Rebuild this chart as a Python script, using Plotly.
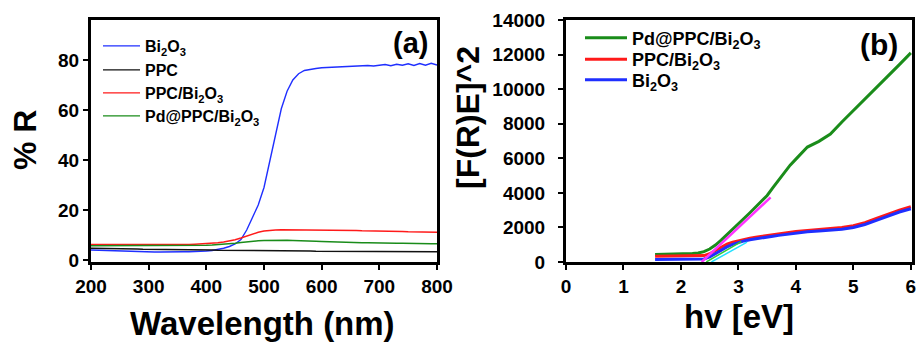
import plotly.graph_objects as go

# ---------------- Panel (a): reflectance ----------------
wavelength = list(range(200, 801, 10))

R_bi2o3 = [4.0, 3.9, 3.8, 3.7, 3.6, 3.6, 3.5, 3.5, 3.4, 3.3,
           3.3, 3.2, 3.2, 3.3, 3.2, 3.2, 3.3, 3.3, 3.3, 3.4,
           3.6, 3.8, 4.2, 4.7, 5.4, 6.4, 8.2, 12.0, 17.0, 22.0,
           29.0, 39.0, 50.0, 60.5, 67.5, 72.0, 74.5, 75.8, 76.3, 76.6,
           76.9, 77.0, 77.2, 77.1, 77.4, 77.3, 77.6, 77.5, 77.8, 77.6,
           77.9, 78.2, 77.7, 78.3, 77.9, 78.5, 77.8, 78.6, 77.9, 78.7,
           78.0]
R_ppc = [4.7, 4.7, 4.6, 4.6, 4.5, 4.5, 4.4, 4.4, 4.4, 4.3,
         4.3, 4.3, 4.2, 4.2, 4.2, 4.1, 4.1, 4.1, 4.0, 4.0,
         4.0, 4.0, 3.9, 3.9, 3.9, 3.9, 3.8, 3.8, 3.8, 3.8,
         3.7, 3.7, 3.7, 3.7, 3.6, 3.6, 3.6, 3.6, 3.6, 3.5,
         3.5, 3.5, 3.5, 3.5, 3.5, 3.4, 3.4, 3.4, 3.4, 3.4,
         3.4, 3.4, 3.4, 3.3, 3.3, 3.3, 3.3, 3.3, 3.3, 3.3,
         3.3]
R_ppc_bi2o3 = [6.2, 6.2, 6.1, 6.1, 6.0, 6.0, 6.0, 5.9, 5.9, 5.9,
               5.9, 5.9, 5.9, 6.0, 6.0, 6.0, 6.1, 6.2, 6.3, 6.4,
               6.5, 6.7, 6.9, 7.2, 7.6, 8.1, 8.8, 9.6, 10.4, 11.1,
               11.6, 11.9, 12.0, 12.1, 12.1, 12.1, 12.1, 12.0, 12.0, 12.0,
               12.0, 11.9, 11.9, 11.9, 11.9, 11.8, 11.8, 11.7, 11.7, 11.6,
               11.6, 11.5, 11.5, 11.4, 11.4, 11.3, 11.3, 11.2, 11.2, 11.2,
               11.1]
R_pd_ppc_bi2o3 = [5.7, 5.7, 5.7, 5.6, 5.6, 5.6, 5.6, 5.6, 5.6, 5.6,
                  5.6, 5.6, 5.6, 5.7, 5.7, 5.7, 5.7, 5.8, 5.8, 5.9,
                  5.9, 6.0, 6.1, 6.3, 6.5, 6.7, 7.0, 7.3, 7.5, 7.7,
                  7.8, 7.9, 7.9, 7.9, 7.9, 7.8, 7.8, 7.7, 7.6, 7.5,
                  7.4, 7.3, 7.2, 7.2, 7.1, 7.0, 7.0, 6.9, 6.9, 6.8,
                  6.8, 6.8, 6.7, 6.7, 6.7, 6.6, 6.6, 6.6, 6.5, 6.5,
                  6.5]

# ---------------- Panel (b): Tauc plot ----------------
energy = [1.55, 1.8, 2.0, 2.2, 2.3, 2.4, 2.5, 2.6, 2.7, 2.8, 2.9, 3.0, 3.1, 3.2,
          3.3, 3.4, 3.5, 3.6, 3.7, 3.8, 3.9, 4.0, 4.2, 4.4, 4.6, 4.8,
          5.0, 5.2, 5.4, 5.6, 5.8, 6.0]
F_pd = [430, 440, 460, 490, 520, 600, 750, 980, 1270, 1600, 1900, 2220, 2530, 2850,
        3180, 3500, 3850, 4300, 4750, 5180, 5600, 5950, 6650, 6980, 7400, 8100,
        8750, 9400, 10050, 10750, 11420, 12100]
F_ppc_bi2o3 = [330, 330, 330, 335, 340, 370, 480, 680, 870, 1030, 1150, 1240, 1320, 1380,
               1430, 1480, 1530, 1570, 1620, 1670, 1720, 1760, 1830, 1880, 1920, 1990,
               2100, 2280, 2520, 2780, 3000, 3200]
F_bi2o3 = [150, 150, 150, 155, 160, 180, 290, 480, 690, 870, 1020, 1130, 1220, 1290,
           1350, 1400, 1450, 1490, 1540, 1590, 1640, 1680, 1750, 1800, 1840, 1900,
           2000, 2170, 2410, 2670, 2890, 3080]

# tangent (band-gap extrapolation) lines
fit_pd_x, fit_pd_y = [2.36, 3.56], [0, 3740]
fit_ppc_x, fit_ppc_y = [2.44, 3.05], [0, 1180]
fit_bi_x, fit_bi_y = [2.53, 3.15], [0, 1150]

xticks_a = [200, 300, 400, 500, 600, 700, 800]
yticks_a = [0, 20, 40, 60, 80]
xticks_b = [0, 1, 2, 3, 4, 5, 6]
yticks_b = [0, 2000, 4000, 6000, 8000, 10000, 12000, 14000]

FONT = "Liberation Sans, Arial, sans-serif"
BLUE = "#1f2fff"
RED = "#ff1a1a"
GREEN = "#1a8c1a"
BLACK = "#111111"

W, H = 917, 346
def px_x(p):
    return p / W
def px_y(p):
    return 1 - p / H

fig = go.Figure()

# panel a: one legend box per entry so row spacing matches
for name, ys, col, lg in [("Bi<sub>2</sub>O<sub>3</sub>", R_bi2o3, BLUE, "legend"),
                          ("PPC", R_ppc, BLACK, "legend2"),
                          ("PPC/Bi<sub>2</sub>O<sub>3</sub>", R_ppc_bi2o3, RED, "legend3"),
                          ("Pd@PPC/Bi<sub>2</sub>O<sub>3</sub>", R_pd_ppc_bi2o3, GREEN, "legend4")]:
    fig.add_trace(go.Scatter(x=wavelength, y=ys, mode="lines", name=name,
                             line=dict(color=col, width=1.4), xaxis="x", yaxis="y",
                             legend=lg))

for name, ys, col, lg in [("Pd@PPC/Bi<sub>2</sub>O<sub>3</sub>", F_pd, GREEN, "legend5"),
                          ("PPC/Bi<sub>2</sub>O<sub>3</sub>", F_ppc_bi2o3, RED, "legend6"),
                          ("Bi<sub>2</sub>O<sub>3</sub>", F_bi2o3, BLUE, "legend7")]:
    fig.add_trace(go.Scatter(x=energy, y=ys, mode="lines", name=name,
                             line=dict(color=col, width=3), xaxis="x2", yaxis="y2", legend=lg))
fig.add_trace(go.Scatter(x=fit_pd_x, y=fit_pd_y, mode="lines", showlegend=False,
                         line=dict(color="#ff33ff", width=2.5), xaxis="x2", yaxis="y2"))
fig.add_trace(go.Scatter(x=fit_ppc_x, y=fit_ppc_y, mode="lines", showlegend=False,
                         line=dict(color="#33cc33", width=1.5), xaxis="x2", yaxis="y2"))
fig.add_trace(go.Scatter(x=fit_bi_x, y=fit_bi_y, mode="lines", showlegend=False,
                         line=dict(color="#22e0ff", width=1.5), xaxis="x2", yaxis="y2"))

tickfont = dict(family=FONT, size=19, color="black", weight="bold")
axis_common = dict(showline=True, linewidth=3, linecolor="black", mirror=True,
                   ticks="outside", ticklen=5, tickwidth=2, tickcolor="black",
                   showgrid=False, zeroline=False, tickfont=tickfont, automargin=False)

def one_legend(xpx, ypx, size, iw):
    return dict(x=px_x(xpx), y=px_y(ypx), xanchor="left", yanchor="middle",
                bgcolor="rgba(0,0,0,0)", borderwidth=0, itemwidth=iw,
                font=dict(family=FONT, size=size, color="black", weight="bold"))

fig.update_layout(
    template="none",
    width=W, height=H,
    margin=dict(l=0, r=0, t=0, b=0, pad=0),
    paper_bgcolor="white", plot_bgcolor="white",
    xaxis=dict(domain=[px_x(91), px_x(437)], range=[200, 800], tickvals=xticks_a,
               anchor="y", **axis_common),
    yaxis=dict(domain=[px_y(262), px_y(20)], range=[-0.8, 96], tickvals=yticks_a,
               anchor="x", **axis_common),
    xaxis2=dict(domain=[px_x(566), px_x(912)], range=[0, 6.02], tickvals=xticks_b,
                anchor="y2", **axis_common),
    yaxis2=dict(domain=[px_y(262), px_y(20)], range=[0, 14000], tickvals=yticks_b,
                ticktext=[str(v) for v in yticks_b], tickformat="d", ticklabelstandoff=9,
                anchor="x2", **axis_common),
    legend=one_legend(98, 46, 16, 37),
    legend2=one_legend(98, 70, 16, 37),
    legend3=one_legend(98, 93, 16, 37),
    legend4=one_legend(98, 116, 16, 37),
    legend5=one_legend(580, 38, 18, 42),
    legend6=one_legend(580, 59.5, 18, 42),
    legend7=one_legend(580, 80, 18, 42),
    showlegend=True,
)

ann_font = dict(family=FONT, color="black", weight="bold")
annotations = [
    dict(text="% R", x=px_x(25), y=px_y(140), textangle=-90, font=dict(size=32, **ann_font)),
    dict(text="Wavelength (nm)", x=px_x(262), y=px_y(323), font=dict(size=33, **ann_font)),
    dict(text="[F(R)E]^2", x=px_x(468), y=px_y(118), textangle=-90, font=dict(size=32, **ann_font)),
    dict(text="hv [eV]", x=px_x(739), y=px_y(316), font=dict(size=33, **ann_font)),
    dict(text="(a)", x=px_x(410), y=px_y(43), font=dict(size=29, **ann_font)),
    dict(text="(b)", x=px_x(879), y=px_y(45), font=dict(size=30, **ann_font)),
]
for a in annotations:
    a.update(xref="paper", yref="paper", showarrow=False, xanchor="center", yanchor="middle")
fig.update_layout(annotations=annotations)

fig.write_html("out.html", config={"displayModeBar": False},
               post_script="document.body.style.margin='0';document.body.style.overflow='hidden';")
